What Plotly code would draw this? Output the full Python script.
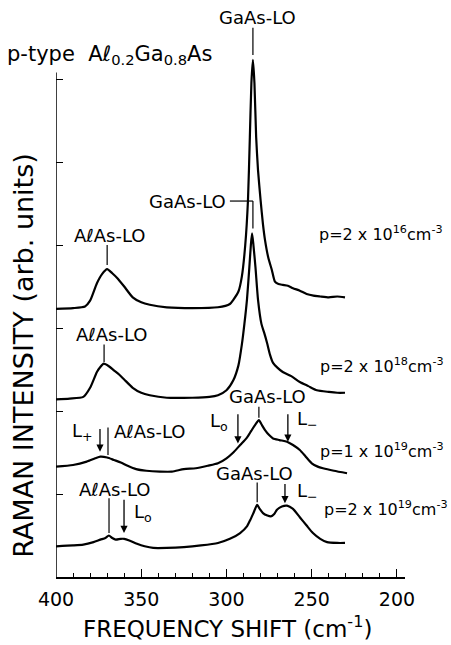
import plotly.graph_objects as go

# ---- data (Raman shift in cm^-1, intensity in arbitrary offset units) ----
x_16 = [400, 390, 383, 380, 376, 373, 370, 367, 364, 360, 355, 350, 345, 335, 320, 305,
        298, 296, 293, 291, 289, 287.4, 286.3, 285.4, 284.5, 283.6, 282.6, 281.5, 280,
        278.6, 277.4, 275.5, 273.4, 271.6, 269.5, 267, 264, 261, 257, 253, 249, 245,
        240, 235, 230.5]
y_16 = [3.23, 3.24, 3.26, 3.33, 3.54, 3.65, 3.71, 3.66, 3.60, 3.50, 3.37, 3.31, 3.28,
        3.25, 3.24, 3.25, 3.29, 3.34, 3.44, 3.62, 4.00, 4.54, 5.30, 5.95, 6.23, 5.95,
        5.30, 4.90, 4.54, 4.25, 4.06, 3.85, 3.70, 3.56, 3.53, 3.52, 3.51, 3.48, 3.45,
        3.41, 3.39, 3.38, 3.37, 3.38, 3.37]

x_18 = [400, 392, 384, 380, 376, 374, 372, 369, 366, 363, 360, 355, 350, 345, 335, 320,
        310, 305, 300, 296, 293, 291, 289.5, 288, 286.6, 285.7, 285, 284.2, 283, 281.5,
        279.5, 278, 276.2, 274.5, 272.7, 270, 267, 262, 257, 252, 247, 240, 235, 230.5]
y_18 = [2.14, 2.15, 2.17, 2.28, 2.47, 2.53, 2.57, 2.54, 2.49, 2.44, 2.38, 2.28, 2.22,
        2.19, 2.16, 2.16, 2.17, 2.19, 2.25, 2.37, 2.55, 2.80, 3.05, 3.34, 3.73, 4.00,
        4.14, 4.00, 3.73, 3.34, 3.05, 2.95, 2.82, 2.68, 2.58, 2.52, 2.47, 2.42, 2.35,
        2.30, 2.25, 2.23, 2.22, 2.22]

x_1e19 = [400, 390, 382, 377, 374, 370, 366, 362, 358, 353, 347, 339, 332, 325, 318, 311,
          305, 300, 296, 292, 288, 285.5, 283, 281, 279.5, 277.4, 275, 272.7, 269, 264.5,
          261, 257, 253.5, 250, 246.5, 243.4, 237, 229.3]
y_1e19 = [1.33, 1.35, 1.39, 1.43, 1.45, 1.44, 1.41, 1.38, 1.34, 1.30, 1.28, 1.27, 1.27,
          1.30, 1.31, 1.34, 1.37, 1.43, 1.50, 1.59, 1.68, 1.76, 1.84, 1.89, 1.84, 1.77,
          1.71, 1.67, 1.65, 1.63, 1.59, 1.53, 1.45, 1.37, 1.33, 1.31, 1.28, 1.25]

x_2e19 = [400, 390, 384, 378, 374, 371, 369, 367, 365, 362, 360, 357, 352.5, 348, 343,
          335, 325, 315, 305, 298, 292, 288, 286, 284, 282, 280.5, 278.6, 276, 274, 272,
          270.4, 267.5, 264.5, 261, 257, 253, 249.3, 245, 241, 235, 230.5]
y_2e19 = [0.37, 0.38, 0.39, 0.42, 0.45, 0.47, 0.50, 0.47, 0.45, 0.46, 0.46, 0.44, 0.40,
          0.37, 0.35, 0.35, 0.36, 0.38, 0.41, 0.46, 0.53, 0.61, 0.69, 0.78, 0.87, 0.82,
          0.77, 0.74, 0.73, 0.76, 0.81, 0.85, 0.86, 0.82, 0.72, 0.62, 0.53, 0.46, 0.42,
          0.41, 0.41]

x_tick_vals = [400, 350, 300, 250, 200]
x_tick_text = ["400", "350", "300", "250", "200"]
y_tick_vals = [1, 2, 3, 4, 5, 6]

FONT = "DejaVu Sans"
BLACK = "black"

fig = go.Figure()
for xs, ys in [(x_16, y_16), (x_18, y_18), (x_1e19, y_1e19), (x_2e19, y_2e19)]:
    fig.add_trace(go.Scatter(x=xs, y=ys, mode="lines",
                             line=dict(color=BLACK, width=2.2, shape="spline", smoothing=0.6),
                             showlegend=False, hoverinfo="skip"))

annotations = []
shapes = []


def label(text, x, y, xanchor="center", size=18, xref="x", yref="y"):
    annotations.append(dict(text=text, x=x, y=y, xref=xref, yref=yref, xanchor=xanchor,
                            yanchor="middle", showarrow=False,
                            font=dict(family=FONT, size=size, color=BLACK)))


def vline(x, y0, y1, yref="y"):
    shapes.append(dict(type="line", xref="x", yref=yref, x0=x, x1=x, y0=y0, y1=y1,
                       line=dict(color=BLACK, width=1.2)))


def arrow(x, ytail, ytip):
    annotations.append(dict(text="", x=x, y=ytip, ax=x, ay=ytail, xref="x", yref="y",
                            axref="x", ayref="y", showarrow=True, arrowhead=2,
                            arrowsize=1.1, arrowwidth=1.3, arrowcolor=BLACK, standoff=0))


# sample label (paper coordinates, sits left of / above the axes)
label("p-type  Aℓ<sub>0.2</sub>Ga<sub>0.8</sub>As", -0.146, 0.9905, xanchor="left",
      size=21, xref="paper", yref="paper")

# spectrum 1
label("GaAs-LO", 282, 1.061, yref="paper")
vline(284.5, 1.042, 0.9905, yref="paper")
label("AℓAs-LO", 368.3, 4.12)
vline(370, 4.0, 3.76)
label("p=2 x 10<sup>16</sup>cm<sup>-3</sup>", 247, 4.14, xanchor="left", size=16)

# spectrum 2
label("GaAs-LO", 299, 4.53, xanchor="right")
shapes.append(dict(type="line", xref="x", yref="y", x0=298, x1=284.5, y0=4.53, y1=4.53,
                   line=dict(color=BLACK, width=1.2)))
vline(284.5, 4.53, 4.2)
label("AℓAs-LO", 367, 2.92)
vline(371.8, 2.80, 2.59)
label("p=2 x 10<sup>18</sup>cm<sup>-3</sup>", 246.3, 2.55, xanchor="left", size=16)

# spectrum 3
label("GaAs-LO", 276.2, 2.17)
vline(281, 2.05, 1.92)
label("L<sub>o</sub>", 304.4, 1.87)
arrow(293.3, 1.98, 1.61)
label("L<sub>−</sub>", 259.8, 1.89, xanchor="left")
arrow(264, 1.98, 1.63)
label("p=1 x 10<sup>19</sup>cm<sup>-3</sup>", 246.3, 1.53, xanchor="left", size=16)
label("L<sub>+</sub>", 384.2, 1.75)
arrow(374.2, 1.80, 1.51)
label("AℓAs-LO", 367, 1.75, xanchor="left")
vline(369.5, 1.80, 1.47)

# spectrum 4
label("GaAs-LO", 283.3, 1.25)
vline(282, 1.14, 0.90)
label("L<sub>−</sub>", 259.8, 1.02, xanchor="left")
arrow(265.7, 1.14, 0.89)
label("p=2 x 10<sup>19</sup>cm<sup>-3</sup>", 244, 0.83, xanchor="left", size=16)
label("AℓAs-LO", 365.4, 1.06)
vline(368.9, 0.95, 0.53)
label("L<sub>o</sub>", 349, 0.77)
arrow(360.1, 0.95, 0.53)

# left axis line (stops just above the top tick)
shapes.append(dict(type="line", xref="x", yref="y", x0=400, x1=400, y0=0, y1=6.08,
                   line=dict(color=BLACK, width=1.5)))

# axis titles
annotations.append(dict(text="FREQUENCY SHIFT (cm<sup>-1</sup>)", x=0.49, y=-0.095,
                        xref="paper", yref="paper", showarrow=False, xanchor="center",
                        yanchor="middle", font=dict(family=FONT, size=23, color=BLACK)))
annotations.append(dict(text="RAMAN INTENSITY (arb. units)", x=-0.094, y=0.42,
                        xref="paper", yref="paper", showarrow=False, textangle=-90,
                        xanchor="center", yanchor="middle",
                        font=dict(family=FONT, size=27, color=BLACK)))

fig.update_layout(
    width=451, height=645,
    margin=dict(l=56, r=46, t=50, b=68),
    paper_bgcolor="white", plot_bgcolor="white",
    font=dict(family=FONT, color=BLACK),
    annotations=annotations, shapes=shapes,
    xaxis=dict(range=[400, 195.3], showgrid=False, zeroline=False,
               showline=True, linecolor=BLACK, linewidth=1.5,
               tickmode="array", tickvals=x_tick_vals, ticktext=x_tick_text,
               ticks="inside", ticklen=8, tickwidth=1.2, tickcolor=BLACK,
               ticklabelstandoff=4,
               tickfont=dict(family=FONT, size=19, color=BLACK),
               minor=dict(dtick=10, tick0=200, ticks="inside", ticklen=4,
                          tickwidth=1.2, tickcolor=BLACK, showgrid=False)),
    yaxis=dict(range=[0, 6.35], showgrid=False, zeroline=False, showline=False,
               tickmode="array", tickvals=y_tick_vals, showticklabels=False,
               ticks="inside", ticklen=7, tickwidth=1.2, tickcolor=BLACK),
)

fig.write_html("out.html")
